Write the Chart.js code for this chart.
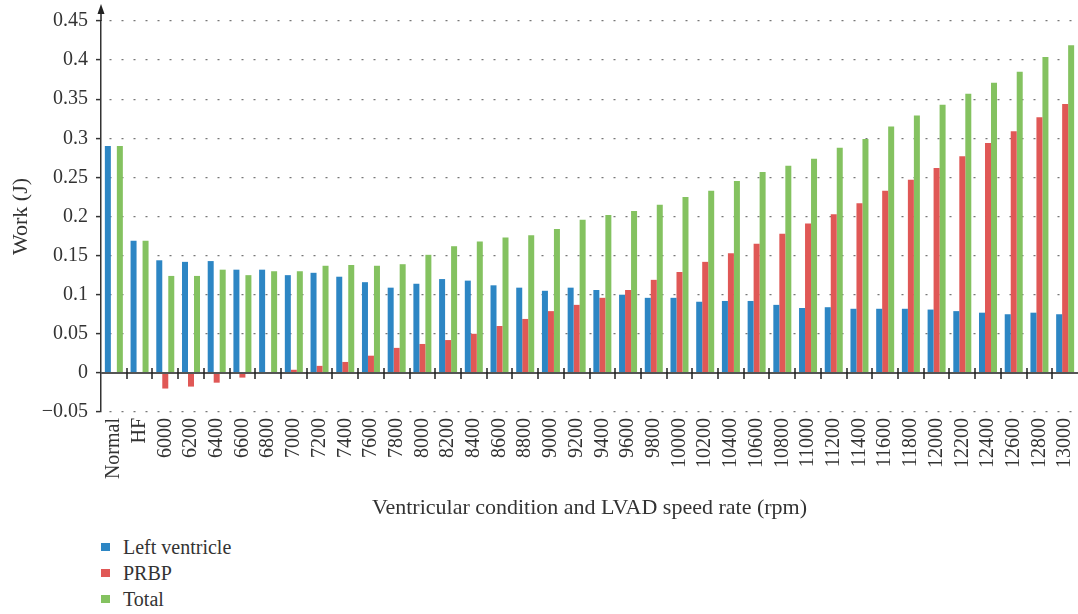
<!DOCTYPE html>
<html>
<head>
<meta charset="utf-8">
<script src="https://cdn.jsdelivr.net/npm/chart.js@4.4.1/dist/chart.umd.min.js"></script>
<style>
  body { margin: 0; background: #fff; }
  #wrap { position: relative; width: 1078px; height: 525px; }
  #legend { margin: 9px 0 0 101px; font-family: 'Liberation Serif', serif; font-size: 20px; color: #333; }
  #legend div { height: 26px; line-height: 26px; display: flex; align-items: center; }
  #legend span.box { display: inline-block; width: 9px; height: 8px; margin-right: 13px; }
</style>
</head>
<body>
<div id="wrap"><canvas id="grafico"></canvas></div>
<div id="legend"></div>
<script>
// Categorias do eixo x: condição ventricular e rotação do LVAD (rpm)
const categorias = ['Normal', 'HF', '6000', '6200', '6400', '6600', '6800', '7000', '7200', '7400',
  '7600', '7800', '8000', '8200', '8400', '8600', '8800', '9000', '9200', '9400',
  '9600', '9800', '10000', '10200', '10400', '10600', '10800', '11000', '11200', '11400',
  '11600', '11800', '12000', '12200', '12400', '12600', '12800', '13000'];

// Trabalho (J) de cada série
const ventriculoEsquerdo = [0.290, 0.169, 0.144, 0.142, 0.143, 0.132, 0.132, 0.125, 0.128, 0.123,
  0.116, 0.109, 0.114, 0.120, 0.118, 0.112, 0.109, 0.105, 0.109, 0.106,
  0.100, 0.096, 0.096, 0.091, 0.092, 0.092, 0.087, 0.083, 0.084, 0.082,
  0.082, 0.082, 0.081, 0.079, 0.077, 0.075, 0.077, 0.075];
const prbp = [0, 0, -0.020, -0.0175, -0.0125, -0.006, -0.001, 0.004, 0.009, 0.014,
  0.022, 0.032, 0.037, 0.042, 0.050, 0.060, 0.069, 0.079, 0.087, 0.096,
  0.106, 0.119, 0.129, 0.142, 0.153, 0.165, 0.178, 0.191, 0.203, 0.217,
  0.233, 0.247, 0.262, 0.277, 0.294, 0.309, 0.327, 0.344];
const total = [0.290, 0.169, 0.124, 0.124, 0.132, 0.125, 0.130, 0.130, 0.137, 0.138,
  0.137, 0.139, 0.151, 0.162, 0.168, 0.173, 0.176, 0.184, 0.196, 0.202,
  0.207, 0.215, 0.225, 0.233, 0.2455, 0.257, 0.265, 0.274, 0.288, 0.299,
  0.315, 0.329, 0.343, 0.357, 0.371, 0.385, 0.404, 0.419];

const series = [
  { nome: 'Left ventricle', dados: ventriculoEsquerdo, cor: '#2d86c4' },
  { nome: 'PRBP', dados: prbp, cor: '#e05856' },
  { nome: 'Total', dados: total, cor: '#84c260' }
];

const fonte = { family: "'Liberation Serif', serif", size: 20 };
const fonteTitulo = { family: "'Liberation Serif', serif", size: 22 };

// Linha do zero com marcas entre categorias e seta no topo do eixo y
const eixosExtras = {
  id: 'eixosExtras',
  afterDatasetsDraw(chart) {
    const { ctx, chartArea, scales: { x, y } } = chart;
    const y0 = y.getPixelForValue(0);
    ctx.save();
    ctx.strokeStyle = '#555';
    ctx.lineWidth = 2;
    ctx.beginPath();
    ctx.moveTo(chartArea.left, y0);
    ctx.lineTo(chartArea.right, y0);
    ctx.stroke();
    ctx.strokeStyle = '#222';
    ctx.lineWidth = 1.5;
    ctx.beginPath();
    for (let i = 1; i < categorias.length; i++) {
      const bx = Math.round((x.getPixelForValue(i - 1) + x.getPixelForValue(i)) / 2);
      ctx.moveTo(bx, y0 - 5);
      ctx.lineTo(bx, y0 + 6);
    }
    ctx.stroke();
    const ax = chartArea.left;
    ctx.beginPath();
    ctx.moveTo(ax, chartArea.top);
    ctx.lineTo(ax, chartArea.top - 10);
    ctx.stroke();
    ctx.fillStyle = '#222';
    ctx.beginPath();
    ctx.moveTo(ax, chartArea.top - 17);
    ctx.lineTo(ax - 3.5, chartArea.top - 7);
    ctx.lineTo(ax + 3.5, chartArea.top - 7);
    ctx.closePath();
    ctx.fill();
    ctx.restore();
  }
};

const grafico = new Chart(document.getElementById('grafico'), {
  type: 'bar',
  data: {
    labels: categorias,
    datasets: series.map(s => ({
      label: s.nome,
      data: s.dados,
      backgroundColor: s.cor,
      categoryPercentage: 0.7,
      barPercentage: 1.0
    }))
  },
  options: {
    responsive: true,
    maintainAspectRatio: false,
    animation: false,
    layout: { padding: { top: 21, left: 0, right: 0, bottom: 0 } },
    plugins: { legend: { display: false }, tooltip: { enabled: false } },
    scales: {
      x: {
        grid: { display: false, drawTicks: false },
        border: { display: false },
        ticks: {
          font: fonte, color: '#333', padding: 6,
          minRotation: 90, maxRotation: 90, autoSkip: false
        },
        title: {
          display: true, text: 'Ventricular condition and LVAD speed rate (rpm)',
          font: fonteTitulo, color: '#333', padding: { top: 4, bottom: 4 }
        },
        afterFit: (escala) => {
          escala.height = 113;
          escala.paddingLeft = 0;
          escala.paddingRight = 0;
        }
      },
      y: {
        min: -0.05,
        max: 0.45,
        ticks: {
          stepSize: 0.05, font: fonte, color: '#333', padding: 8,
          callback: (v) => {
            const r = Math.round(v * 100) / 100;
            return r < 0 ? '\u2212' + String(-r) : String(r);
          }
        },
        grid: {
          color: '#777', lineWidth: 1.2,
          tickLength: 5, tickColor: '#333', tickBorderDash: [], tickWidth: 1.5
        },
        border: { display: true, color: '#333', width: 1.5, dash: [2, 10], dashOffset: -8 },
        title: {
          display: true, text: 'Work (J)', font: fonteTitulo, color: '#333',
          padding: { top: 8, bottom: 4 }
        },
        afterFit: (escala) => { escala.width = 101; }
      }
    }
  },
  plugins: [eixosExtras]
});

// Legenda em coluna, abaixo do gráfico
const legenda = document.getElementById('legend');
series.forEach(s => {
  const linha = document.createElement('div');
  const caixa = document.createElement('span');
  caixa.className = 'box';
  caixa.style.background = s.cor;
  linha.appendChild(caixa);
  linha.appendChild(document.createTextNode(s.nome));
  legenda.appendChild(linha);
});
</script>
</body>
</html>
